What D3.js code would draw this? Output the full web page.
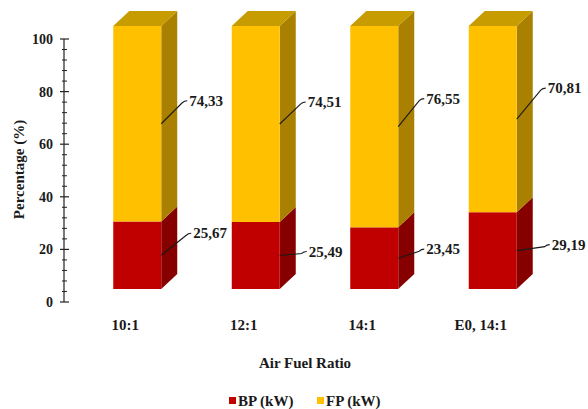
<!DOCTYPE html>
<html>
<head>
<meta charset="utf-8">
<script src="https://cdn.jsdelivr.net/npm/d3@7"></script>
<style>
  html, body { margin: 0; padding: 0; background: #fff; }
  svg { display: block; }
</style>
</head>
<body>
<div id="chart"></div>
<script>
// Share of brake power and friction power per air-fuel ratio
const categories = ["10:1", "12:1", "14:1", "E0, 14:1"];
const bpValues = [25.67, 25.49, 23.45, 29.19];
const fpValues = [74.33, 74.51, 76.55, 70.81];
const bpLabels = ["25,67", "25,49", "23,45", "29,19"];
const fpLabels = ["74,33", "74,51", "76,55", "70,81"];
const yTicks = [0, 20, 40, 60, 80, 100];
const seriesNames = ["BP (kW)", "FP (kW)"];

const W = 588, H = 409;
const FONT = "Liberation Serif";
const svg = d3.select("#chart").append("svg").attr("width", W).attr("height", H);

// every label uses the same bold serif face
function label(parent, size) {
  return parent.append("text")
    .attr("font-family", FONT)
    .style("font-family", "'Liberation Serif', 'Times New Roman', serif")
    .attr("font-weight", "bold")
    .attr("font-size", size)
    .attr("fill", "#1a1a1a");
}

// Scales
const y = d3.scaleLinear().domain([0, 100]).range([302, 39]);
const x = d3.scaleBand().domain(categories).range([78, 552])
  .paddingInner(0.595).paddingOuter(0.2975);

// 3D projection of the column bodies
const lift = 13;            // front face sits above the axis baseline
const depthX = 16, depthY = -15;
const fy = v => y(v) - lift;

const colors = {
  bp: { front: "#C00000", side: "#860000", top: "#9A0000" },
  fp: { front: "#FFC000", side: "#AA8000", top: "#C69C00" }
};

// Y axis with major and minor ticks
const axisX = 64;
const axisG = svg.append("g");
axisG.append("line").attr("x1", axisX).attr("x2", axisX)
  .attr("y1", y(100)).attr("y2", y(0)).attr("stroke", "#222").attr("stroke-width", 1.2);
d3.range(0, 101, 4).forEach(v => {
  if (v % 20 === 0) return;
  axisG.append("line").attr("x1", axisX - 2).attr("x2", axisX + 3)
    .attr("y1", y(v)).attr("y2", y(v)).attr("stroke", "#222").attr("stroke-width", 1);
});
yTicks.forEach(v => {
  axisG.append("line").attr("x1", axisX - 4).attr("x2", axisX + 5)
    .attr("y1", y(v)).attr("y2", y(v)).attr("stroke", "#222").attr("stroke-width", 1.2);
  label(axisG, 14).attr("x", axisX - 11).attr("y", y(v)).attr("dy", "0.35em")
    .attr("text-anchor", "end").text(v);
});

label(svg, 15)
  .attr("transform", `translate(19, ${(y(0) + y(100)) / 2 - 1}) rotate(-90)`)
  .attr("text-anchor", "middle").attr("dy", "0.35em")
  .text("Percentage (%)");

// Columns
const bars = categories.map((c, i) => ({
  cat: c, bp: bpValues[i], fp: fpValues[i], bpText: bpLabels[i], fpText: fpLabels[i]
}));

const pts = a => a.map(p => p.join(",")).join(" ");

function segment(g, xl, xr, v0, v1, col, withTop) {
  g.append("polygon").attr("points", pts([
    [xr, fy(v0)], [xr + depthX, fy(v0) + depthY], [xr + depthX, fy(v1) + depthY], [xr, fy(v1)]
  ])).attr("fill", col.side);
  if (withTop) {
    g.append("polygon").attr("points", pts([
      [xl, fy(v1)], [xl + depthX, fy(v1) + depthY], [xr + depthX, fy(v1) + depthY], [xr, fy(v1)]
    ])).attr("fill", col.top);
  }
  g.append("rect").attr("x", xl).attr("y", fy(v1))
    .attr("width", xr - xl).attr("height", fy(v0) - fy(v1)).attr("fill", col.front);
}

// Leader offsets (label anchor relative to the point on the column edge)
const bpLeader = [[29, -22], [26, -4], [25, -9], [32, -6]];
const fpLeader = [[25, -23], [25, -22], [25, -28], [28, -31]];

function leader(g, x0, y0, off, txt) {
  const x1 = x0 + off[0], y1 = y0 + off[1];
  g.append("path")
    .attr("d", `M${x0},${y0} L${x1 - 4},${y1 + 2} Q${x1 - 2},${y1} ${x1 + 1},${y1}`)
    .attr("fill", "none").attr("stroke", "#1a1a1a").attr("stroke-width", 1.1);
  label(g, 15).attr("x", x1 + 3).attr("y", y1).attr("dy", "0.35em").text(txt);
}

bars.forEach((d, i) => {
  const g = svg.append("g");
  const xl = x(d.cat), xr = xl + x.bandwidth();
  segment(g, xl, xr, 0, d.bp, colors.bp, false);
  segment(g, xl, xr, d.bp, d.bp + d.fp, colors.fp, true);
  leader(g, xr, fy(d.bp / 2), bpLeader[i], d.bpText);
  leader(g, xr, fy(d.bp + d.fp / 2), fpLeader[i], d.fpText);
  label(svg, 15).attr("x", xl + x.bandwidth() / 2 - 12).attr("y", 325)
    .attr("dy", "0.35em").attr("text-anchor", "middle").text(d.cat);
});

label(svg, 15).attr("x", 305).attr("y", 363).attr("dy", "0.35em")
  .attr("text-anchor", "middle").text("Air Fuel Ratio");

// Legend
const legend = svg.append("g");
const legendItems = [
  { name: seriesNames[0], color: colors.bp.front, x: 229 },
  { name: seriesNames[1], color: colors.fp.front, x: 317 }
];
legendItems.forEach(it => {
  legend.append("rect").attr("x", it.x).attr("y", 397).attr("width", 7).attr("height", 7).attr("fill", it.color);
  label(legend, 15).attr("x", it.x + 9).attr("y", 401).attr("dy", "0.35em").text(it.name);
});
</script>
</body>
</html>
